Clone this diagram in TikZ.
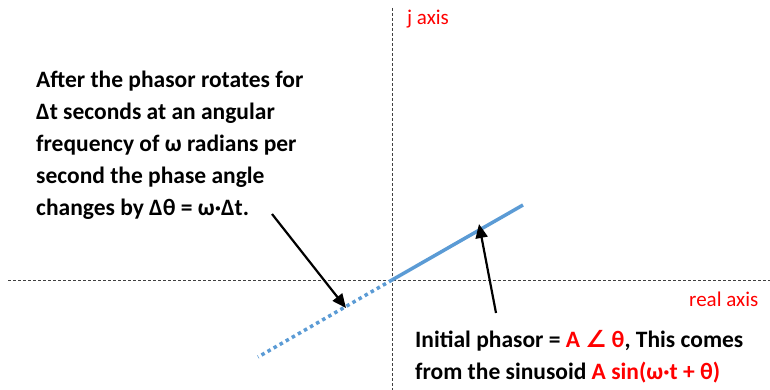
\documentclass[tikz,border=0pt]{standalone}
\usepackage{fontspec}
\setmainfont{Carlito}
\newfontfamily\anglefont{DejaVu Sans}
\usetikzlibrary{arrows.meta}
\definecolor{phasorblue}{RGB}{91,155,213}

\begin{document}
\begin{tikzpicture}[x=1pt, y=-1pt, every node/.style={font=\fontsize{21}{32}\selectfont, inner sep=0pt},
	>={Triangle[length=14pt, width=12pt]},
	axis/.style={black!75, line width=0.8pt, dash pattern=on 3pt off 2pt},
	phasor/.style={phasorblue, line width=3.5pt},
	note/.style={anchor=base west, align=left, font=\fontsize{23.5}{32}\selectfont\bfseries},
	pointer/.style={black, line width=2.2pt, ->}]
	\useasboundingbox (0,0) rectangle (770,390);
	% axes
	\coordinate (O) at (392,280);
	\coordinate (jtop) at (392,8);
	\coordinate (jbot) at (392,390);
	\coordinate (rleft) at (8,280);
	\coordinate (rright) at (770,280);
	\draw[axis] (jtop) -- (jbot);
	\draw[axis] (rleft) -- (rright);
	\node[red, anchor=base west] (jlab) at (407,25) {j axis};
	\node[red, anchor=base west] (rlab) at (689,306) {real axis};
	% phasor now and after rotating
	\coordinate (now) at (523,205);
	\coordinate (later) at (258,357);
	\draw[phasor] (O) -- (now);
	\draw[phasor, dash pattern=on 3.5pt off 3.5pt] (O) -- (later);
	% notes (base = last line)
	\node[note] (rotnote) at (36,215)
		{After the phasor rotates for\\ Δt seconds at an angular\\ frequency of ω radians per\\ second the phase angle\\ changes by Δθ = ω·Δt.};
	\node[note] (initnote) at (415,379)
		{Initial phasor = \textcolor{red}{A {\anglefont∠} θ}, This comes\\ from the sinusoid \textcolor{red}{A sin(ω·t + θ)}};
	\coordinate (p1) at (272,214);
	\coordinate (p1tip) at (346,308);
	\coordinate (p2) at (496,313);
	\coordinate (p2tip) at (479,224);
	\draw[pointer] (p1) -- (p1tip);
	\draw[pointer] (p2) -- (p2tip);
\end{tikzpicture}
\end{document}
